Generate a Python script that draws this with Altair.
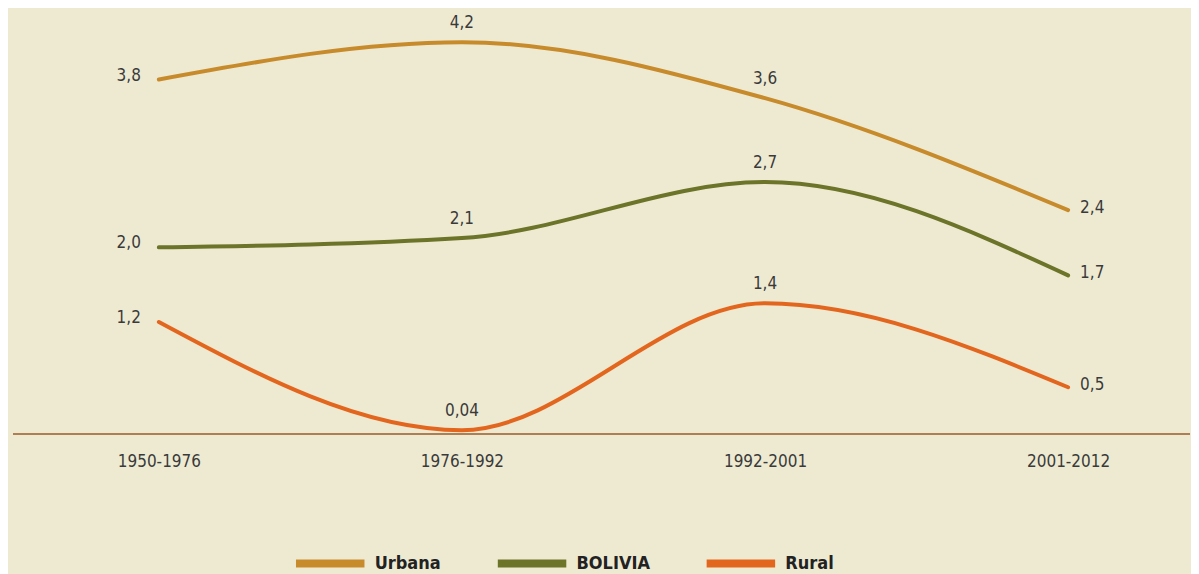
import altair as alt
import pandas as pd

periods = ["1950-1976", "1976-1992", "1992-2001", "2001-2012"]
series = ["Urbana", "BOLIVIA", "Rural"]
urbana = [3.8, 4.2, 3.6, 2.4]
bolivia = [2.0, 2.1, 2.7, 1.7]
rural = [1.2, 0.04, 1.4, 0.5]
urbana_lbl = ["3,8", "4,2", "3,6", "2,4"]
bolivia_lbl = ["2,0", "2,1", "2,7", "1,7"]
rural_lbl = ["1,2", "0,04", "1,4", "0,5"]
colors = ["#c78b2c", "#6b7428", "#e3661f"]

rows = []
for name, vals, lbls in [("Urbana", urbana, urbana_lbl), ("BOLIVIA", bolivia, bolivia_lbl), ("Rural", rural, rural_lbl)]:
    for i, (p, v, l) in enumerate(zip(periods, vals, lbls)):
        rows.append({"serie": name, "periodo": p, "valor": v, "etiqueta": l, "idx": i})
df = pd.DataFrame(rows)

FONT = "DejaVu Sans Condensed, Liberation Sans Narrow, sans-serif"
TXT = "#3a3a3a"
W = 1178

x = alt.X("periodo:O", sort=periods, title=None,
          scale=alt.Scale(type="point", range=[146, 1056], padding=0),
          axis=alt.Axis(labelAngle=0, ticks=False, domain=False, labelPadding=20, labelFontSize=17,
                        labelFont=FONT, labelColor=TXT, grid=False))
y = alt.Y("valor:Q", title=None, scale=alt.Scale(domain=[0, 4.2], nice=False, zero=True), axis=None)
color = alt.Color("serie:N", scale=alt.Scale(domain=series, range=colors), sort=series,
                  legend=alt.Legend(title=None, orient="none", direction="horizontal",
                                    legendX=279, legendY=483, symbolType="stroke",
                                    symbolSize=4700, symbolStrokeWidth=8, labelFont=FONT,
                                    labelFontSize=18, labelFontWeight="bold", labelColor="#222222",
                                    columnPadding=40, labelOffset=6, symbolOpacity=1))

base = alt.Chart(df)
baseline = alt.Chart(pd.DataFrame({"v": [0]})).mark_rule(color="#9a5a2a", strokeWidth=1.5).encode(
    y=alt.Y("v:Q", scale=alt.Scale(domain=[0, 4.2], nice=False), axis=None),
    x=alt.value(0), x2=alt.value(W))
lines = base.mark_line(interpolate="monotone", strokeWidth=4, strokeCap="round").encode(
    x=x, y=y, color=color)

tstyle = dict(font=FONT, fontSize=17, color=TXT)
left = base.transform_filter("datum.idx == 0").mark_text(align="right", baseline="middle", dx=-18, dy=-4, **tstyle).encode(
    x=x, y=y, text="etiqueta:N")
mid = base.transform_filter("datum.idx == 1 || datum.idx == 2").mark_text(align="center", baseline="bottom", dy=-10, **tstyle).encode(
    x=x, y=y, text="etiqueta:N")
right = base.transform_filter("datum.idx == 3").mark_text(align="left", baseline="middle", dx=12, dy=-2, **tstyle).encode(
    x=x, y=y, text="etiqueta:N")

chart = alt.layer(baseline, lines, left, mid, right).properties(
    width=W, height=392, background="#eeead2",
    padding={"left": 4, "top": 6, "right": 0, "bottom": 0}
).configure_view(stroke=None)

chart.save("out.html", embed_options={"renderer": "svg", "actions": False})
